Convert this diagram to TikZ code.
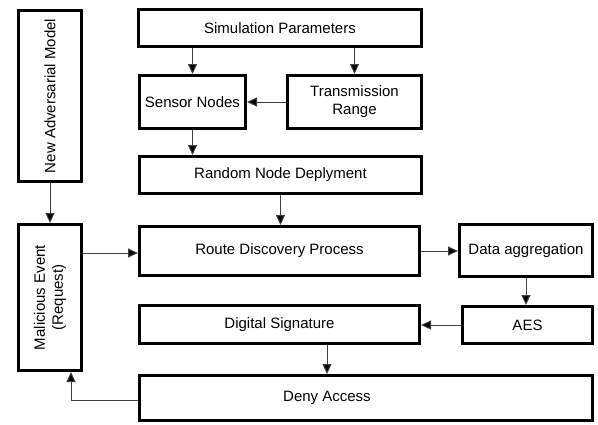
\documentclass[tikz,border=0pt]{standalone}
\usepackage{fontspec}
\setmainfont{Liberation Sans}
\usetikzlibrary{arrows.meta}
\begin{document}
\begin{tikzpicture}[x=1pt,y=-1pt,
  box/.style={draw=black,line width=3pt,inner sep=0pt,align=center,
    font=\fontsize{15}{18}\selectfont},
  arr/.style={draw=black!75,line width=1pt,-{Triangle[length=10pt,width=9pt,fill=black]}}]
\useasboundingbox (0,0) rectangle (598,424);
\node[box,minimum width=63pt,minimum height=171pt] (nam) at (50,96) {};
\node[rotate=90,font=\fontsize{15}{18}\selectfont] at (nam.center) {New Adversarial Model};
\node[box,minimum width=63pt,minimum height=146pt] (mal) at (50,297.5) {};
\node[rotate=90,align=center,font=\fontsize{15}{18}\selectfont] at (mal.center) {Malicious Event\\(Request)};
\node[box,minimum width=283pt,minimum height=37pt] (sim) at (280,28) {Simulation Parameters};
\node[box,minimum width=106pt,minimum height=53pt] (sen) at (192.5,102) {Sensor Nodes};
\node[box,minimum width=134pt,minimum height=53pt] (tra) at (354.5,102) {Transmission\\Range};
\node[box,minimum width=282pt,minimum height=37pt] (ran) at (280.5,175) {Random Node Deplyment};
\node[box,minimum width=280pt,minimum height=49pt] (rou) at (279.5,251) {Route Discovery Process};
\node[box,minimum width=133pt,minimum height=52pt] (dat) at (526,250.5) {Data aggregation};
\node[box,minimum width=130pt,minimum height=37pt] (aes) at (527.5,325) {AES};
\node[box,minimum width=280pt,minimum height=38pt] (dig) at (279.5,324.5) {Digital Signature};
\node[box,minimum width=453pt,minimum height=45pt] (den) at (366,398) {};
\node[font=\fontsize{15}{18}\selectfont] (dentext) at (327,398) {Deny Access};
\draw[arr] (sen.north |- sim.south) -- (sen.north);
\draw[arr] (tra.north |- sim.south) -- (tra.north);
\draw[arr] (tra.west) -- (sen.east);
\draw[arr] (sen.south) -- (sen.south |- ran.north);
\draw[arr] (ran.south) -- (rou.north -| ran.south);
\draw[arr] (nam.south) -- (mal.north);
\draw[arr] (mal.east |- 0,253) -- (rou.west |- 0,253);
\draw[arr] (rou.east) -- (dat.west |- rou.east);
\draw[arr] (dat.south) -- (dat.south |- aes.north);
\draw[arr] (aes.west) -- (dig.east |- aes.west);
\draw[arr] (dig.south -| 327,0) -- (den.north -| 327,0);
\draw[arr] (den.west |- 0,400) -| ([xshift=21pt]mal.south);
\end{tikzpicture}
\end{document}
